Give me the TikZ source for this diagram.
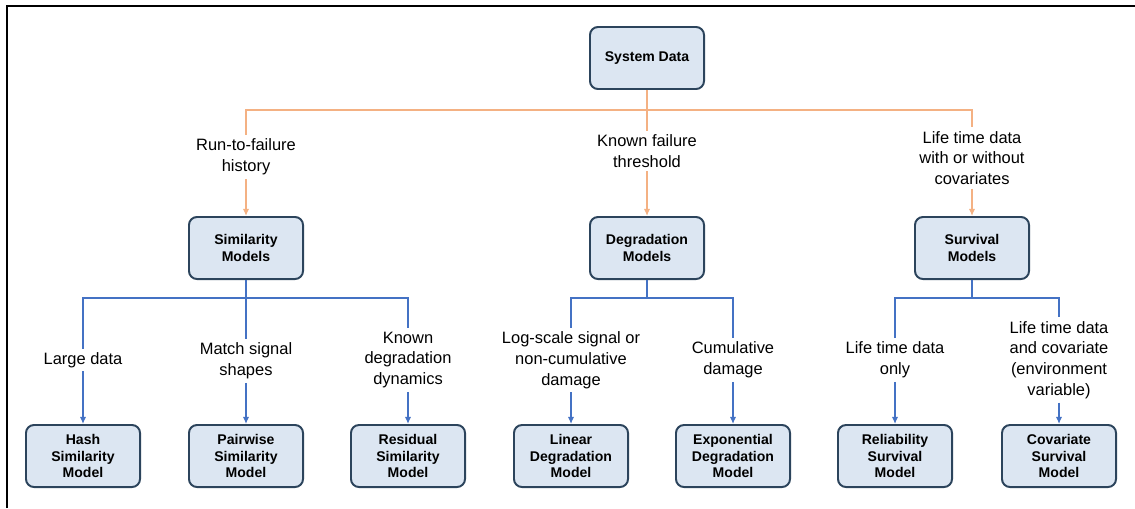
\documentclass[tikz,border=0pt]{standalone}
\usepackage{fontspec}
\setmainfont{Liberation Sans}
\usetikzlibrary{arrows.meta}
\definecolor{sdfill}{RGB}{220,230,242}
\definecolor{sdedge}{RGB}{44,68,92}
\definecolor{sdorange}{RGB}{244,177,131}
\definecolor{sdblue}{RGB}{68,114,196}

\begin{document}
\begin{tikzpicture}[%
    x=0.025cm, y=-0.025cm,
    model/.style={draw=sdedge, fill=sdfill, line width=1.4pt, rounded corners=0.2cm,
      minimum width=2.85cm, minimum height=1.55cm, align=center, inner sep=1pt,
      font=\bfseries\fontsize{10}{12}\selectfont},
    cond/.style={align=center, inner sep=2.5pt, font=\fontsize{11.7}{14.8}\selectfont},
    tier1/.style={draw=sdorange, line width=1.4pt},
    tier2/.style={draw=sdblue, line width=1.4pt},
    tip/.style={-{Latex[length=5pt,width=4.5pt]}},
    ]
    \useasboundingbox (0,0) rectangle (1135,508);
    \draw[line width=1.5pt] (7,508) -- (7,6) -- (1135,6);

    \node[model] (sys) at (647,58) {System Data};
    \node[model] (sim) at (246,248) {Similarity\\Models};
    \node[model] (deg) at (647,248) {Degradation\\Models};
    \node[model] (sur) at (972,248) {Survival\\Models};

    \node[model] (hash) at (83,456) {Hash\\Similarity\\Model};
    \node[model] (pair) at (246,456) {Pairwise\\Similarity\\Model};
    \node[model] (resid) at (408,456) {Residual\\Similarity\\Model};
    \node[model] (lin) at (571,456) {Linear\\Degradation\\Model};
    \node[model] (expo) at (733,456) {Exponential\\Degradation\\Model};
    \node[model] (reli) at (895,456) {Reliability\\Survival\\Model};
    \node[model] (cova) at (1059,456) {Covariate\\Survival\\Model};

    \node[cond] (rtf) at (246,157) {Run-to-failure\\history};
    \node[cond] (kft) at (647,151) {Known failure\\threshold};
    \node[cond] (ltd) at (972,158) {Life time data\\with or without\\covariates};

    \node[cond] (lgd) at (83,360) {Large data};
    \node[cond] (msg) at (246,361) {Match signal\\shapes};
    \node[cond] (kdd) at (408,360) {Known\\degradation\\dynamics};
    \node[cond] (lsc) at (571,360) {Log-scale signal or\\non-cumulative\\damage};
    \node[cond] (cmd) at (733,360) {Cumulative\\damage};
    \node[cond] (lto) at (895,360) {Life time data\\only};
    \node[cond] (ltc) at (1059,360) {Life time data\\and covariate\\(environment\\variable)};

    \coordinate (obus) at (647,110);
    \coordinate (sbus) at (246,298);
    \coordinate (dbus) at (647,298);
    \coordinate (vbus) at (972,298);

    \draw[tier1] (sys) -- (kft);
    \draw[tier1] (rtf) |- (obus) -| (ltd);
    \draw[tier1,tip] (rtf) -- (sim);
    \draw[tier1,tip] (kft) -- (deg);
    \draw[tier1,tip] (ltd) -- (sur);

    \draw[tier2] (sim) -- (msg);
    \draw[tier2] (lgd) |- (sbus) -| (kdd);
    \draw[tier2] (deg) -- (dbus);
    \draw[tier2] (lsc) |- (dbus) -| (cmd);
    \draw[tier2] (sur) -- (vbus);
    \draw[tier2] (lto) |- (vbus) -| (ltc);

    \draw[tier2,tip] (lgd) -- (hash);
    \draw[tier2,tip] (msg) -- (pair);
    \draw[tier2,tip] (kdd) -- (resid);
    \draw[tier2,tip] (lsc) -- (lin);
    \draw[tier2,tip] (cmd) -- (expo);
    \draw[tier2,tip] (lto) -- (reli);
    \draw[tier2,tip] (ltc) -- (cova);
\end{tikzpicture}
\end{document}
